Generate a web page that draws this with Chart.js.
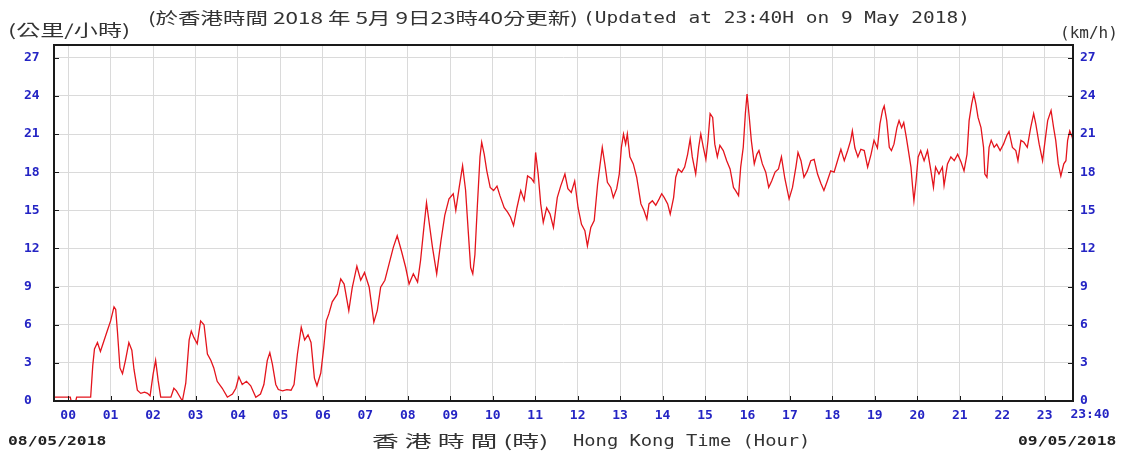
<!DOCTYPE html>
<html>
<head>
<meta charset="utf-8">
<script src="https://cdn.jsdelivr.net/npm/chart.js@4.4.1/dist/chart.umd.min.js"></script>
<style>
  body { margin: 0; background: #fff; }
  #wrap { position: relative; width: 1124px; height: 457px; overflow: hidden; }
  .txt { position: absolute; white-space: pre; transform-origin: 0 50%; color: #333; line-height: 1; }
  .mono { font-family: "DejaVu Sans Mono", monospace; font-size: 16px; }
  .cjk { font-family: "Noto Sans CJK TC", sans-serif; font-size: 16px; }
  .date { font-family: "DejaVu Sans Mono", monospace; font-size: 13px; font-weight: bold; color: #222; }
</style>
</head>
<body>
<div id="wrap">
  <canvas id="wind" width="1124" height="457"></canvas>
  <span class="txt cjk" data-w="122" style="left:8px; top:21px;">(公里/小時)</span>
  <span class="txt cjk" data-w="430" style="left:148px; top:9px;">(於香港時間 2018 年 5月 9日23時40分更新)</span>
  <span class="txt mono" data-w="387" style="left:583px; top:10px;">(Updated at 23:40H on 9 May 2018)</span>
  <span class="txt mono" data-w="58" style="left:1060px; top:25px;">(km/h)</span>
  <span class="txt date" data-w="98" style="left:8px; top:434px;">08/05/2018</span>
  <span class="txt date" data-w="98" style="left:1018px; top:434px;">09/05/2018</span>
  <span class="txt cjk" data-w="176" style="left:372px; top:432px;">香 港 時 間 (時)</span>
  <span class="txt mono" data-w="237" style="left:573px; top:433px;">Hong Kong Time (Hour)</span>
</div>
<script>
// wind speed readings, hours since 00:00 on 09/05 (chart starts 23:40 the day before)
var hours = [
  -0.33, 0.05, 0.07, 0.18, 0.2, 0.5, 0.53, 0.58, 0.62, 0.69, 0.76, 0.84, 0.92,
  1.0, 1.08, 1.12, 1.16, 1.22, 1.28, 1.35, 1.43, 1.5, 1.55, 1.63, 1.71, 1.8, 1.87, 1.93,
  2.0, 2.06, 2.12, 2.18, 2.3, 2.42, 2.49, 2.55, 2.61, 2.69, 2.77, 2.85, 2.9, 2.96,
  3.04, 3.12, 3.2, 3.28, 3.36, 3.43, 3.51, 3.63, 3.75, 3.87, 3.95,
  4.02, 4.1, 4.2, 4.3, 4.42, 4.53, 4.61, 4.69, 4.75, 4.81, 4.89, 4.95,
  5.05, 5.15, 5.25, 5.32, 5.4, 5.49, 5.57, 5.65, 5.72, 5.8, 5.86, 5.95,
  6.02, 6.08, 6.14, 6.22, 6.34, 6.42, 6.5, 6.61, 6.69, 6.8, 6.89, 6.98,
  7.09, 7.2, 7.28, 7.36, 7.46, 7.56, 7.66, 7.75, 7.85, 7.95,
  8.03, 8.13, 8.23, 8.3, 8.38, 8.44, 8.5, 8.58, 8.68, 8.78, 8.87, 8.97,
  9.07, 9.13, 9.21, 9.29, 9.36, 9.42, 9.48, 9.53, 9.58, 9.64, 9.7, 9.74, 9.8, 9.86, 9.94,
  10.02, 10.1, 10.17, 10.27, 10.35, 10.42, 10.49, 10.57, 10.66, 10.74, 10.82, 10.91, 10.97,
  11.01, 11.07, 11.13, 11.19, 11.27, 11.35, 11.43, 11.52, 11.6, 11.7, 11.77, 11.85, 11.93,
  12.01, 12.09, 12.17, 12.23, 12.31, 12.39, 12.47, 12.53, 12.58, 12.64, 12.7, 12.78, 12.84, 12.92, 12.98,
  13.03, 13.08, 13.13, 13.17, 13.23, 13.31, 13.39, 13.49, 13.56, 13.63, 13.68, 13.76, 13.84, 13.92, 13.98,
  14.04, 14.12, 14.18, 14.26, 14.31, 14.37, 14.45, 14.52, 14.59, 14.65, 14.7, 14.78, 14.85, 14.9, 14.96,
  15.02, 15.07, 15.12, 15.18, 15.23, 15.29, 15.35, 15.43, 15.51, 15.59, 15.67, 15.72, 15.79, 15.84, 15.9, 15.95, 15.99,
  16.04, 16.09, 16.16, 16.22, 16.27, 16.35, 16.43, 16.5, 16.57, 16.65, 16.73, 16.8, 16.88, 16.98,
  17.06, 17.14, 17.19, 17.26, 17.33, 17.41, 17.49, 17.57, 17.65, 17.73, 17.8, 17.88, 17.96,
  18.04, 18.12, 18.2, 18.28, 18.36, 18.43, 18.47, 18.53, 18.6, 18.67, 18.75, 18.83, 18.91, 18.98,
  19.06, 19.12, 19.18, 19.22, 19.28, 19.34, 19.39, 19.45, 19.52, 19.57, 19.63, 19.68, 19.74, 19.79, 19.85, 19.89, 19.92, 19.97,
  20.02, 20.08, 20.16, 20.24, 20.32, 20.38, 20.43, 20.51, 20.59, 20.63, 20.71, 20.79, 20.87, 20.95,
  21.03, 21.1, 21.17, 21.22, 21.28, 21.33, 21.38, 21.43, 21.5, 21.56, 21.59, 21.64, 21.69, 21.74, 21.81, 21.87, 21.95,
  22.03, 22.11, 22.16, 22.24, 22.32, 22.37, 22.44, 22.51, 22.59, 22.67, 22.74, 22.79, 22.87, 22.95,
  23.01, 23.07, 23.15, 23.21, 23.26, 23.32, 23.38, 23.45, 23.5, 23.54, 23.59, 23.65, 23.67
];
var speeds = [
  0.3, 0.3, 0, 0, 0.3, 0.3, 0.3, 2.8, 4.1, 4.6, 3.9, 4.7, 5.5,
  6.3, 7.4, 7.2, 5.5, 2.6, 2.15, 3.2, 4.6, 4.0, 2.5, 0.85, 0.6, 0.7, 0.6, 0.4,
  2.1, 3.2, 1.6, 0.3, 0.3, 0.3, 1.0, 0.8, 0.45, 0, 1.4, 4.8, 5.5, 5.0,
  4.5, 6.3, 6.0, 3.7, 3.2, 2.6, 1.55, 1.0, 0.3, 0.55, 1.0,
  1.9, 1.3, 1.55, 1.2, 0.3, 0.55, 1.3, 3.2, 3.8, 2.9, 1.3, 0.9,
  0.8, 0.9, 0.85, 1.3, 3.7, 5.8, 4.8, 5.2, 4.6, 1.8, 1.2, 2.2,
  4.2, 6.3, 6.85, 7.8, 8.4, 9.6, 9.2, 7.1, 8.9, 10.6, 9.5, 10.1,
  8.95, 6.2, 7.1, 8.95, 9.5, 10.8, 12.1, 13.0, 11.8, 10.5,
  9.2, 10.0, 9.35, 11.05, 13.7, 15.6, 14.1, 12.1, 10.0, 12.6, 14.6, 15.9,
  16.3, 15.0, 16.8, 18.5, 16.6, 13.5, 10.5, 10.0, 11.5, 15.5, 19.2, 20.35, 19.4, 18.1, 16.8,
  16.55, 16.9, 16.15, 15.2, 14.85, 14.45, 13.8, 15.2, 16.55, 15.8, 17.7, 17.5, 17.2,
  19.55, 17.85, 15.5, 14.05, 15.2, 14.7, 13.65, 16.0, 16.9, 17.85, 16.7, 16.4, 17.3,
  15.2, 13.9, 13.4, 12.2, 13.65, 14.2, 17.05, 18.65, 19.95, 18.65, 17.2, 16.8, 16.0, 16.7, 17.85,
  19.95, 21.0, 20.2, 21.0, 19.2, 18.65, 17.6, 15.5, 15.0, 14.3, 15.5, 15.75, 15.4, 15.9, 16.3,
  16.0, 15.5, 14.7, 16.0, 17.6, 18.25, 18.0, 18.4, 19.4, 20.6, 19.2, 17.85, 19.95, 21.0, 19.95,
  19.0, 20.5, 22.6, 22.3, 20.2, 19.2, 20.1, 19.7, 18.9, 18.25, 16.8, 16.55, 16.15, 18.4, 19.95, 22.6, 24.15,
  22.4, 20.5, 18.65, 19.4, 19.7, 18.65, 18.0, 16.8, 17.3, 18.0, 18.25, 19.2, 17.5, 15.9,
  16.8, 18.4, 19.55, 18.9, 17.6, 18.1, 18.9, 19.0, 17.85, 17.1, 16.55, 17.3, 18.1,
  18.0, 18.9, 19.8, 18.9, 19.7, 20.5, 21.25, 19.9, 19.2, 19.8, 19.7, 18.4, 19.4, 20.5,
  19.9, 21.8, 22.85, 23.2, 22.05, 19.95, 19.7, 20.2, 21.5, 22.05, 21.5, 21.9, 20.75, 19.7, 18.4, 16.8, 15.75, 17.3,
  19.2, 19.7, 18.9, 19.7, 18.1, 16.8, 18.4, 17.85, 18.4, 16.95, 18.65, 19.2, 18.9, 19.4,
  18.8, 18.1, 19.4, 22.05, 23.35, 24.15, 23.35, 22.3, 21.5, 19.95, 17.85, 17.6, 19.95, 20.5, 19.95, 20.2, 19.7,
  20.2, 20.9, 21.2, 19.95, 19.7, 18.9, 20.5, 20.35, 19.95, 21.5, 22.6, 21.8, 20.2, 18.9,
  20.5, 22.05, 22.85, 21.5, 20.5, 18.65, 17.7, 18.65, 18.9, 20.5, 21.25, 20.75, 20.35
];
var hourTicks = [0, 1, 2, 3, 4, 5, 6, 7, 8, 9, 10, 11, 12, 13, 14, 15, 16, 17, 18, 19, 20, 21, 22, 23];
var speedTicks = [0, 3, 6, 9, 12, 15, 18, 21, 24, 27];
var startHour = -1 / 3, endHour = 23 + 2 / 3;
var endLabel = '23:40';

var tickFont = { family: 'DejaVu Sans Mono', size: 13, weight: 'bold' };
var tickBlue = '#2424c4';
var gridGrey = '#dadada';

function setTicks(list) {
  return function (scale) {
    scale.ticks = list.map(function (v) { return { value: v }; });
  };
}

// border, inner tick marks and the 23:40 end label
var frame = {
  id: 'frame',
  afterDraw: function (chart) {
    var ctx = chart.ctx, a = chart.chartArea, x = chart.scales.x, y = chart.scales.y;
    ctx.save();
    ctx.strokeStyle = '#1a1a1a';
    ctx.lineWidth = 1;
    ctx.beginPath();
    hourTicks.forEach(function (h) {
      var px = Math.round(x.getPixelForValue(h)) + 0.5;
      ctx.moveTo(px, a.bottom);
      ctx.lineTo(px, a.bottom - 5);
    });
    speedTicks.forEach(function (v) {
      var py = Math.round(y.getPixelForValue(v)) + 0.5;
      ctx.moveTo(a.left, py);
      ctx.lineTo(a.left + 5, py);
      ctx.moveTo(a.right, py);
      ctx.lineTo(a.right - 5, py);
    });
    ctx.stroke();
    ctx.lineWidth = 2;
    ctx.strokeRect(a.left, a.top, a.right - a.left, a.bottom - a.top);
    ctx.fillStyle = tickBlue;
    ctx.font = 'bold 13px "DejaVu Sans Mono"';
    ctx.textAlign = 'center';
    ctx.textBaseline = 'middle';
    ctx.fillText(endLabel, x.getPixelForValue(endHour) + 17, a.bottom + 14);
    ctx.restore();
  }
};

var ctx = document.getElementById('wind').getContext('2d');
var chart = new Chart(ctx, {
  type: 'line',
  data: {
    datasets: [{
      data: hours.map(function (h, i) { return { x: h, y: speeds[i] }; }),
      borderColor: '#e4141c',
      borderWidth: 1.3,
      pointRadius: 0,
      tension: 0,
      fill: false
    }]
  },
  options: {
    responsive: false,
    animation: false,
    layout: { padding: { top: 45, left: 24, right: 0, bottom: 0 } },
    plugins: { legend: { display: false }, tooltip: { enabled: false } },
    scales: {
      x: {
        type: 'linear',
        min: startHour,
        max: endHour,
        afterBuildTicks: setTicks(hourTicks),
        afterFit: function (s) { s.height = 56; },
        border: { display: false },
        grid: { color: gridGrey, drawTicks: false },
        ticks: {
          font: tickFont, color: tickBlue, padding: 7, maxRotation: 0, autoSkip: false,
          callback: function (v) { return (v < 10 ? '0' : '') + v; }
        }
      },
      y: {
        position: 'left',
        min: 0,
        max: 28,
        afterBuildTicks: setTicks(speedTicks),
        afterFit: function (s) { s.width = 30; },
        border: { display: false },
        grid: { color: gridGrey, drawTicks: false },
        ticks: { font: tickFont, color: tickBlue, padding: 10, crossAlign: 'far' }
      },
      y2: {
        position: 'right',
        min: 0,
        max: 28,
        afterBuildTicks: setTicks(speedTicks),
        afterFit: function (s) { s.width = 51; },
        border: { display: false },
        grid: { display: false, drawTicks: false },
        ticks: { font: tickFont, color: tickBlue, padding: 7 }
      }
    }
  },
  plugins: [frame]
});

// stretch the caption texts to the widths they take in the original
document.querySelectorAll('.txt').forEach(function (el) {
  var w = +el.getAttribute('data-w');
  el.style.transform = 'scaleX(' + (w / el.offsetWidth) + ')';
});
</script>
</body>
</html>
